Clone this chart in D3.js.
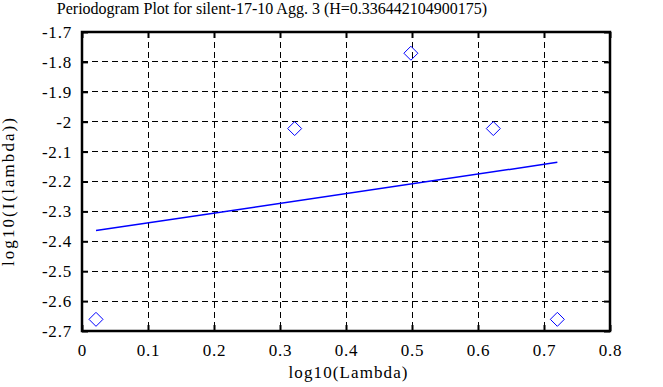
<!DOCTYPE html>
<html><head><meta charset="utf-8">
<script src="https://cdn.jsdelivr.net/npm/d3@7"></script>
<style>body{margin:0;background:#fff}svg{display:block}</style>
</head><body><svg id="c" width="663" height="387"></svg>
<script>
const titleText = "Periodogram Plot for silent-17-10 Agg. 3 (H=0.336442104900175)";
const xLabel = "log10(Lambda)";
const yLabel = "log10(I(lambda))";
const xTicks = [0, 0.1, 0.2, 0.3, 0.4, 0.5, 0.6, 0.7, 0.8];
const yTicks = [-1.7, -1.8, -1.9, -2, -2.1, -2.2, -2.3, -2.4, -2.5, -2.6, -2.7];
const pointX = [0.0212, 0.3222, 0.4983, 0.6232, 0.7202];
const pointY = [-2.661, -2.023, -1.771, -2.023, -2.661];
const fitX = [0.0212, 0.7202];
const fitY = [-2.364, -2.136];

const FONT = "'Liberation Serif', 'Times New Roman', serif";
const svg = d3.select("#c");
const L = 82, R = 610, T = 32, B = 331;
const x = d3.scaleLinear().domain([0, 0.8]).range([L, R]);
const y = d3.scaleLinear().domain([-2.7, -1.7]).range([B, T]);
const fmt = d => String(d);

// grid
const g = svg.append("g");
g.selectAll(".vx").data(xTicks.slice(1, -1)).enter().append("line")
  .attr("x1", d => x(d)).attr("x2", d => x(d)).attr("y1", T).attr("y2", B)
  .attr("stroke", "#000").attr("stroke-width", 1).attr("stroke-dasharray", "6,4")
  .attr("shape-rendering", "crispEdges");
g.selectAll(".hy").data(yTicks.slice(1, -1)).enter().append("line")
  .attr("y1", d => y(d)).attr("y2", d => y(d)).attr("x1", L).attr("x2", R)
  .attr("stroke", "#000").attr("stroke-width", 1).attr("stroke-dasharray", "6,4")
  .attr("shape-rendering", "crispEdges");

// axes with inner ticks
const xb = svg.append("g").attr("transform", `translate(0,${B})`)
  .call(d3.axisBottom(x).tickValues(xTicks).tickSize(-6).tickPadding(14).tickFormat(fmt));
const xt = svg.append("g").attr("transform", `translate(0,${T})`)
  .call(d3.axisTop(x).tickValues(xTicks).tickSize(-6).tickFormat(""));
const yl = svg.append("g").attr("transform", `translate(${L},0)`)
  .call(d3.axisLeft(y).tickValues(yTicks).tickSize(-6).tickPadding(10).tickFormat(fmt));
const yr = svg.append("g").attr("transform", `translate(${R},0)`)
  .call(d3.axisRight(y).tickValues(yTicks).tickSize(-6).tickFormat(""));
[xb, xt, yl, yr].forEach(a => {
  a.attr("font-family", null).attr("font-size", null);
  a.select(".domain").remove();
  a.selectAll(".tick line").attr("stroke", "#000").attr("stroke-width", 2);
  a.selectAll("text").attr("fill", "#000")
    .style("font-family", FONT).style("font-size", "17px").style("letter-spacing", "0.8px");
});
xb.selectAll("text").attr("y", 0).attr("dy", 25);
yl.selectAll("text").attr("dy", "0.32em");

// frame
svg.append("rect").attr("x", L).attr("y", T).attr("width", R - L).attr("height", B - T)
  .attr("fill", "none").attr("stroke", "#000").attr("stroke-width", 2.5);

// fit line
svg.append("line").attr("x1", x(fitX[0])).attr("y1", y(fitY[0]))
  .attr("x2", x(fitX[1])).attr("y2", y(fitY[1]))
  .attr("stroke", "#0000ff").attr("stroke-width", 1.5);

// diamonds
const pts = pointX.map((v, i) => [v, pointY[i]]);
svg.selectAll(".pt").data(pts).enter().append("path")
  .attr("d", d => { const cx = x(d[0]), cy = y(d[1]), s = 7; return `M${cx},${cy - s}L${cx + s},${cy}L${cx},${cy + s}L${cx - s},${cy}Z`; })
  .attr("fill", "none").attr("stroke", "#0000ff").attr("stroke-width", 1);

// title & labels
svg.append("text").attr("x", 272).attr("y", 14).attr("text-anchor", "middle")
  .style("font-family", FONT).style("font-size", "16px").attr("fill", "#000").text(titleText);
svg.append("text").attr("x", 348).attr("y", 378).attr("text-anchor", "middle")
  .attr("textLength", 119).attr("lengthAdjust", "spacing")
  .style("font-family", FONT).style("font-size", "17px").attr("fill", "#000").text(xLabel);
svg.append("text").attr("transform", `translate(14,192) rotate(-90)`).attr("text-anchor", "middle")
  .attr("textLength", 148).attr("lengthAdjust", "spacing")
  .style("font-family", FONT).style("font-size", "17px").attr("fill", "#000").text(yLabel);
</script></body></html>
